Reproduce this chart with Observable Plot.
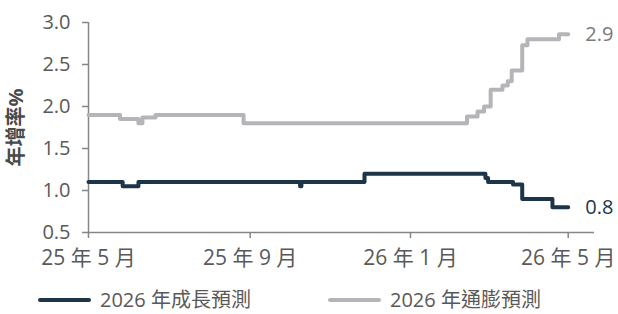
<!DOCTYPE html>
<html>
<head>
<meta charset="utf-8">
<script src="https://cdn.jsdelivr.net/npm/d3@7"></script>
<script src="https://cdn.jsdelivr.net/npm/@observablehq/plot@0.6"></script>
<style>
  html, body { margin: 0; padding: 0; background: #fff; }
  #wrap { position: relative; width: 618px; height: 314px; font-family: "Open Sans", "Noto Sans CJK TC", sans-serif; }
  #legend { position: absolute; left: 0; top: 287px; width: 618px; height: 26px; font-size: 20px; line-height: 26px; color: #595959; }
  .item { position: absolute; top: 0; display: flex; align-items: center; height: 26px; white-space: nowrap; }
  .sw { display: inline-block; width: 53px; height: 4px; margin-right: 9px; border-radius: 2px; }
  svg [aria-label="y-axis label"] text { font-weight: bold; fill: #4a4a4a; }
</style>
</head>
<body>
<div id="wrap">
  <div id="chart"></div>
  <div id="legend"></div>
</div>
<script>
// Series: 2026 GDP growth forecast (年成長預測)
const growthDates = ["2025-05-01","2025-05-27","2025-06-08","2025-10-09","2025-10-10","2025-11-27","2026-02-27","2026-03-01","2026-03-20","2026-03-27","2026-04-19","2026-05-01"];
const growthValues = [1.1, 1.05, 1.1, 1.05, 1.1, 1.2, 1.15, 1.1, 1.07, 0.9, 0.8, 0.8];

// Series: 2026 inflation forecast (年通膨預測)
const inflationDates = ["2025-05-01","2025-05-25","2025-06-08","2025-06-11","2025-06-21","2025-08-27","2026-02-13","2026-02-21","2026-02-26","2026-03-03","2026-03-12","2026-03-16","2026-03-19","2026-03-27","2026-03-31","2026-04-24","2026-05-01"];
const inflationValues = [1.9, 1.85, 1.8, 1.87, 1.9, 1.8, 1.88, 1.94, 2.0, 2.2, 2.25, 2.3, 2.43, 2.73, 2.8, 2.86, 2.86];

const seriesNames = ["2026 年成長預測", "2026 年通膨預測"];
const seriesColors = ["#1c3549", "#b4b5b8"];

const xTickDates = ["2025-05-01","2025-09-01","2026-01-01","2026-05-01"];
const xTickLabels = ["25 年 5 月", "25 年 9 月", "26 年 1 月", "26 年 5 月"];
const yTicks = [0.5, 1.0, 1.5, 2.0, 2.5, 3.0];
const yLabel = "年增率%";
const xDomain = ["2025-05-01", "2026-05-21"];

const growth = growthDates.map((d, i) => ({date: new Date(d), v: growthValues[i]}));
const inflation = inflationDates.map((d, i) => ({date: new Date(d), v: inflationValues[i]}));
const xTicks = xTickDates.map(d => new Date(d));

const axisColor = "#868686";
const textColor = "#595959";

const chart = Plot.plot({
  width: 618,
  height: 286,
  marginLeft: 88,
  marginRight: 24,
  marginTop: 22,
  marginBottom: 54,
  style: {fontFamily: '"Open Sans", "Noto Sans CJK TC", sans-serif', fontSize: "20px", color: textColor, background: "#fff", overflow: "visible"},
  x: {type: "utc", domain: xDomain.map(d => new Date(d))},
  y: {domain: [0.5, 3.0]},
  marks: [
    Plot.axisY({ticks: yTicks, tickFormat: d => d.toFixed(1), tickSize: 6, tickPadding: 12, stroke: axisColor, strokeWidth: 1.5, fill: textColor, fontSize: 20,
      label: yLabel, labelAnchor: "center", labelArrow: "none", labelOffset: 80}),
    Plot.axisX({ticks: xTicks, tickFormat: d => xTickLabels[xTicks.findIndex(t => +t === +d)], tickSize: 6, tickPadding: 12, stroke: axisColor, strokeWidth: 1.5, fill: textColor, fontSize: 21, label: null}),
    Plot.ruleY([0.5], {stroke: axisColor, strokeWidth: 1.5}),
    Plot.ruleX([new Date(xDomain[0])], {y1: 0.5, y2: 3.0, stroke: axisColor, strokeWidth: 1.5}),
    Plot.line(inflation, {x: "date", y: "v", curve: "step-after", stroke: seriesColors[1], strokeWidth: 4, strokeLinejoin: "round", strokeLinecap: "round"}),
    Plot.line(growth, {x: "date", y: "v", curve: "step-after", stroke: seriesColors[0], strokeWidth: 4, strokeLinejoin: "round", strokeLinecap: "round"}),
    Plot.text(inflation, Plot.selectLast({x: "date", y: "v", text: d => d.v.toFixed(1), dx: 17, textAnchor: "start", fill: "#7a7a7a", fontSize: 20})),
    Plot.text(growth, Plot.selectLast({x: "date", y: "v", text: d => d.v.toFixed(1), dx: 17, textAnchor: "start", fill: seriesColors[0], fontSize: 20}))
  ]
});
document.getElementById("chart").appendChild(chart);

const legend = document.getElementById("legend");
const lefts = [38, 328];
seriesNames.forEach((name, i) => {
  const it = document.createElement("div");
  it.className = "item";
  it.style.left = lefts[i] + "px";
  const sw = document.createElement("span");
  sw.className = "sw";
  sw.style.background = seriesColors[i];
  it.appendChild(sw);
  it.appendChild(document.createTextNode(name));
  legend.appendChild(it);
});
</script>
</body>
</html>
